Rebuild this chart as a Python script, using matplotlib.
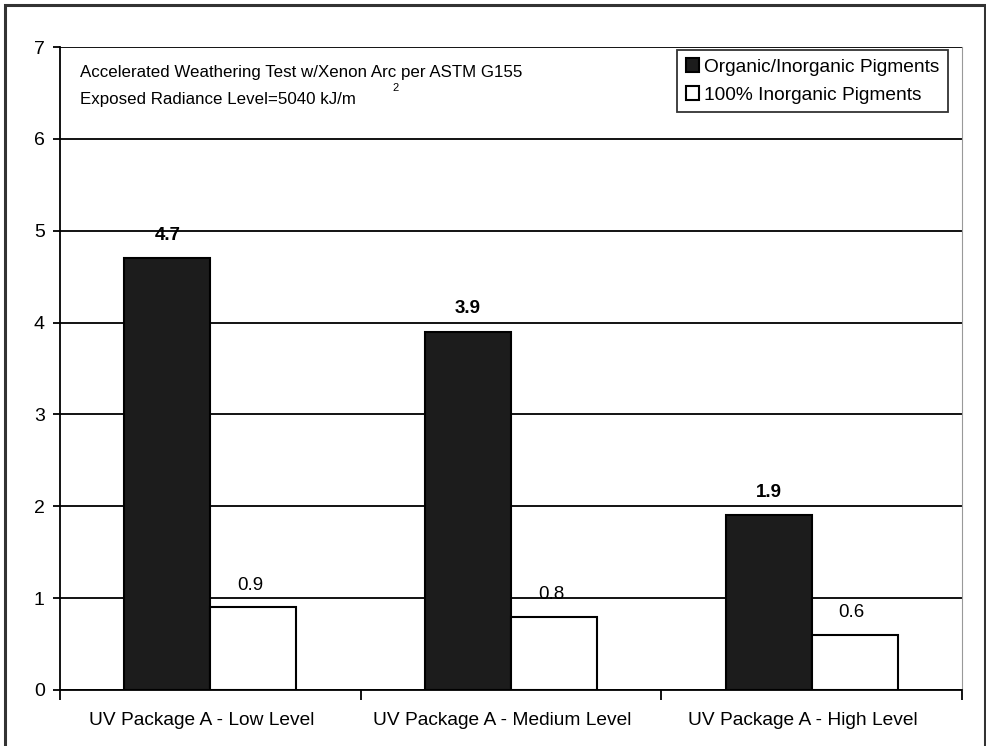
import matplotlib.pyplot as plt
import matplotlib.transforms as mtransforms
import numpy as np
from matplotlib.patches import Rectangle

plt.rcParams['font.family'] = ['Liberation Sans', 'DejaVu Sans']

categories = ['UV Package A - Low Level', 'UV Package A - Medium Level', 'UV Package A - High Level']
organic = [4.7, 3.9, 1.9]
inorganic = [0.9, 0.8, 0.6]
series_names = ['Organic/Inorganic Pigments', '100% Inorganic Pigments']

fig = plt.figure(figsize=(9.87, 7.46), dpi=100)
ax = fig.add_axes([60/987, 1-690/746, 902/987, 643/746])

# outer frame
fig.patches.append(Rectangle((5/987, -0.05), 980/987, 1.05-5/746, transform=fig.transFigure,
                             fill=False, edgecolor='#333333', linewidth=2.2))

x = np.arange(len(categories))
w = 0.286
ax.bar(x - w/2, organic, w, color='#1c1c1c', edgecolor='black', linewidth=1.5,
       label=series_names[0], zorder=3)
ax.bar(x + w/2, inorganic, w, color='white', edgecolor='black', linewidth=1.5,
       label=series_names[1], zorder=3)

for xi, v in zip(x, organic):
    ax.text(xi - w/2, v + 0.25, f'{v:.1f}', ha='center', va='center', fontsize=13.5, fontweight='bold')
for xi, v in zip(x, inorganic):
    ax.text(xi + w/2 - 0.01, v + 0.24, f'{v:.1f}', ha='center', va='center', fontsize=13.5)

ax.set_xlim(-0.5, 2.5)
ax.set_ylim(0, 7)
ax.set_yticks(range(8))
ax.yaxis.grid(True, color='black', linewidth=1.3, zorder=0)
ax.set_axisbelow(True)

ax.set_xticks([-0.5, 0.5, 1.5, 2.5])
ax.set_xticklabels([])
ax.set_xticks(x, minor=True)
ax.set_xticklabels(categories, minor=True, fontsize=13.8)
ax.tick_params(axis='x', which='minor', length=0, pad=16)
ax.tick_params(axis='x', which='major', length=7, width=1.3, direction='out')
ax.tick_params(axis='y', length=5, width=1.3, labelsize=14, pad=6)
shift = mtransforms.ScaledTranslation(-9/100, 0, fig.dpi_scale_trans)
for lbl in ax.get_xticklabels(minor=True):
    lbl.set_transform(lbl.get_transform() + shift)

ax.spines['top'].set_visible(False)
ax.spines['right'].set_color('#999999')
ax.spines['left'].set_linewidth(1.3)
ax.spines['bottom'].set_linewidth(1.3)

ax.text(0.022, 0.960, 'Accelerated Weathering Test w/Xenon Arc per ASTM G155',
        transform=ax.transAxes, fontsize=12.2, va='center')
ax.text(0.022, 0.919, 'Exposed Radiance Level=5040 kJ/m',
        transform=ax.transAxes, fontsize=12.2, va='center')
ax.text(0.369, 0.936, '2', transform=ax.transAxes, fontsize=8, va='center')

leg = ax.legend(loc='upper right', bbox_to_anchor=(0.9845, 0.996), fontsize=13.8, frameon=True,
                fancybox=False, edgecolor='black', handlelength=0.7, handleheight=0.7,
                handletextpad=0.25, borderpad=0.45, labelspacing=0.55, borderaxespad=0)
leg.get_frame().set_linewidth(1.3)

fig.savefig('out.png', dpi=100)
